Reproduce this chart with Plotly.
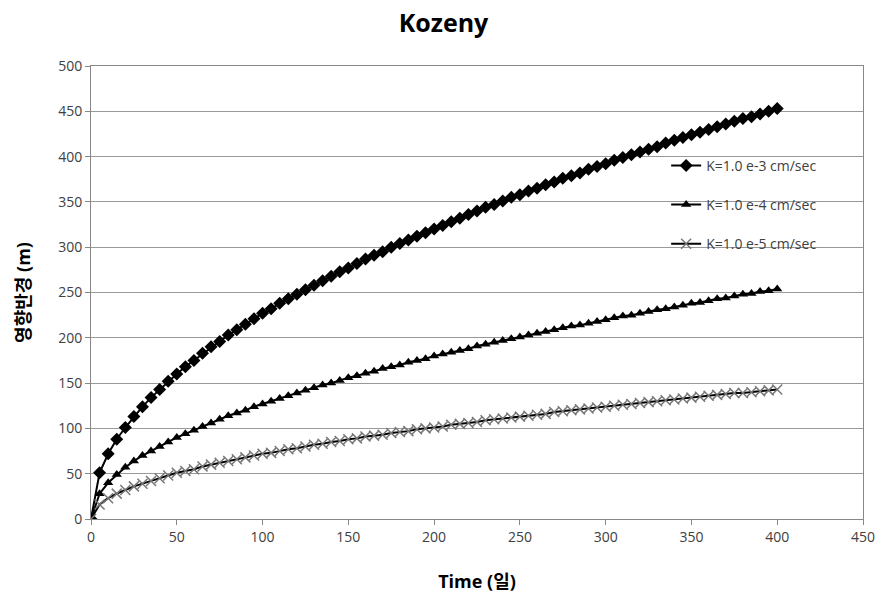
import plotly.graph_objects as go

time_days = list(range(0, 401, 5))

k_1e3 = [0, 51, 72, 88, 101, 113, 124, 134, 143, 152, 160, 168, 175, 183, 190, 196, 203, 209, 215, 221,
         227, 232, 238, 243, 248, 253, 258, 263, 268, 273, 277, 282, 287, 291, 295, 300, 304, 308, 312, 316,
         320, 324, 328, 332, 336, 340, 344, 347, 351, 355, 358, 362, 365, 369, 372, 376, 379, 382, 386, 389,
         392, 396, 399, 402, 405, 408, 411, 415, 418, 421, 424, 427, 430, 433, 436, 439, 442, 444, 447, 450, 453]

k_1e4 = [0, 28, 40, 49, 57, 64, 70, 75, 80, 85, 90, 94, 98, 102, 106, 110, 114, 117, 120, 124,
         127, 130, 133, 136, 139, 142, 145, 148, 150, 153, 156, 158, 161, 163, 166, 168, 170, 173, 175, 177,
         180, 182, 184, 186, 188, 191, 193, 195, 197, 199, 201, 203, 205, 207, 209, 211, 213, 214, 216, 218,
         220, 222, 224, 225, 227, 229, 231, 232, 234, 236, 238, 239, 241, 243, 244, 246, 248, 249, 251, 252, 254]

k_1e5 = [0, 16, 23, 28, 32, 36, 39, 42, 45, 48, 51, 53, 55, 58, 60, 62, 64, 66, 68, 70,
         72, 73, 75, 77, 78, 80, 82, 83, 85, 86, 88, 89, 91, 92, 93, 95, 96, 97, 99, 100,
         101, 102, 104, 105, 106, 107, 109, 110, 111, 112, 113, 114, 115, 116, 118, 119, 120, 121, 122, 123,
         124, 125, 126, 127, 128, 129, 130, 131, 132, 133, 134, 135, 136, 137, 138, 139, 139, 140, 141, 142, 143]

names = ["K=1.0 e-3 cm/sec", "K=1.0 e-4 cm/sec", "K=1.0 e-5 cm/sec"]
x_ticks = [0, 50, 100, 150, 200, 250, 300, 350, 400, 450]
y_ticks = [0, 50, 100, 150, 200, 250, 300, 350, 400, 450, 500]

FONT = "Open Sans, Noto Sans CJK KR, sans-serif"
fig = go.Figure()
fig.add_trace(go.Scatter(x=time_days, y=k_1e3, name=names[0], legendgroup="g1", mode="lines+markers",
                         line=dict(color="black", width=2),
                         marker=dict(symbol="diamond", size=10, color="black")))
fig.add_trace(go.Scatter(x=time_days, y=k_1e4, name=names[1], legendgroup="g2", mode="lines+markers",
                         line=dict(color="black", width=2),
                         marker=dict(symbol="triangle-up", size=9, color="black")))
fig.add_trace(go.Scatter(x=time_days, y=k_1e5, name=names[2], legendgroup="g3", mode="lines+markers",
                         line=dict(color="black", width=2),
                         marker=dict(symbol="x-thin", size=10, color="#777777",
                                     line=dict(color="#777777", width=1.5))))

fig.update_layout(
    width=887, height=600,
    margin=dict(l=91, r=18, t=66, b=81),
    paper_bgcolor="white", plot_bgcolor="white",
    font=dict(family=FONT, size=14, color="#404040"),
    title=dict(text="<b>Kozeny</b>", x=0.5, xanchor="center", y=0.962, yanchor="middle",
               font=dict(family=FONT, size=25, color="black")),
    xaxis=dict(range=[0, 450], tickvals=x_ticks, showgrid=False, zeroline=False,
               showline=True, linecolor="#888888", linewidth=1, mirror=True,
               ticks="outside", ticklen=5, tickcolor="#888888",
               title=dict(text="<b>Time (일)</b>", font=dict(size=18, color="black"), standoff=30)),
    yaxis=dict(range=[0, 500], tickvals=y_ticks, showgrid=True, gridcolor="#999999", gridwidth=1,
               zeroline=False, showline=True, linecolor="#888888", linewidth=1, mirror=True,
               ticks="outside", ticklen=5, tickcolor="#888888",
               title=dict(text="<b>영향반경 (m)</b>", font=dict(size=18, color="black"), standoff=22)),
    legend=dict(x=0.745, y=0.815, xanchor="left", yanchor="top", bgcolor="rgba(0,0,0,0)",
                font=dict(size=14, color="#404040"), tracegroupgap=18, itemwidth=30),
    showlegend=True,
)

fig.write_html("out.html")
